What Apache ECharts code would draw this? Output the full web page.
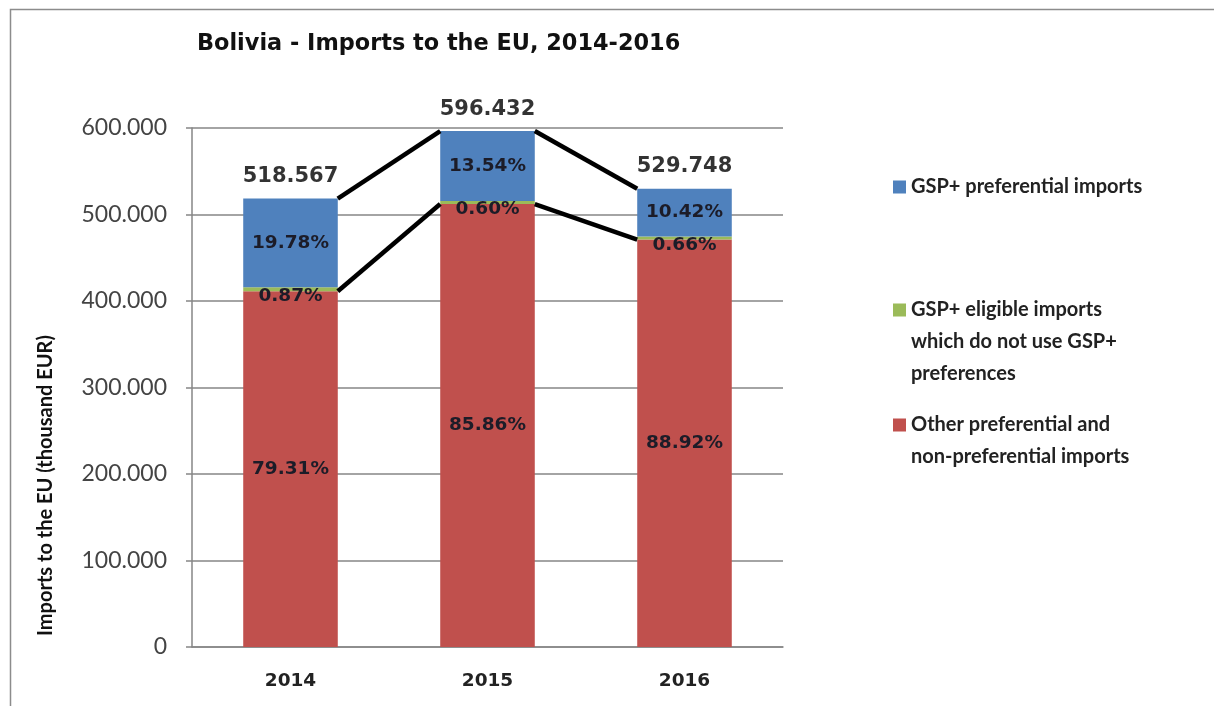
<!DOCTYPE html>
<html>
<head>
<meta charset="utf-8">
<script src="https://cdn.jsdelivr.net/npm/echarts@6/dist/echarts.min.js"></script>
<style>
html,body{margin:0;padding:0;background:#fff;}
#chart{width:1214px;height:706px;}
</style>
</head>
<body>
<div id="chart"></div>
<script>
// ---- data (thousand EUR) ----
var categories = ['2014', '2015', '2016'];
var totals = [518567, 596432, 529748];
var otherImports = [411276, 512097, 471052];   // Other preferential and non-preferential imports
var eligibleNotUsed = [4512, 3579, 3496];      // GSP+ eligible imports which do not use GSP+ preferences
var gspPreferential = [102573, 80757, 55200];  // GSP+ preferential imports
var yTicks = [0, 100000, 200000, 300000, 400000, 500000, 600000];

var nameGsp = 'GSP+ preferential imports';
var nameEligible = 'GSP+ eligible imports\nwhich do not use GSP+\npreferences';
var nameOther = 'Other preferential and\nnon-preferential imports';

var LATO = 'Lato';
var WIDE = 'DejaVu Sans';
var BAR_RATIO = 0.48;

function dots(v) {
  return String(Math.round(v)).replace(/\B(?=(\d{3})+(?!\d))/g, '.');
}
function pctLabel(p) {
  return (p.value / totals[p.dataIndex] * 100).toFixed(2) + '%';
}

var cumRed = otherImports.slice();
var cumGreen = otherImports.map(function (v, i) { return v + eligibleNotUsed[i]; });
var cumTop = cumGreen.map(function (v, i) { return v + gspPreferential[i]; });

var lineData = [];
for (var i = 0; i < categories.length - 1; i++) lineData.push([categories[i], cumTop[i]]);

var barLabel = {
  show: true, position: 'inside', formatter: pctLabel,
  color: '#1c1c28', fontFamily: WIDE, fontWeight: 'bold', fontSize: 18.5
};

// legend icon: a 13px square sitting at the first text line
function legendFor(name, color, lines, iconCenterY) {
  var L = 32, S = 13;
  var H = S + (lines - 1) * L;
  var icon = 'path://M0,0H' + S + 'V' + S + 'H0Z M0,' + (H - 0.01) + 'H0.01V' + H + 'H0Z';
  return {
    data: [{ name: name, icon: icon, itemStyle: { color: color } }],
    left: 893,
    top: iconCenterY - L / 2,
    orient: 'vertical',
    padding: 0,
    itemWidth: S, itemHeight: H, itemGap: 0,
    selectedMode: false,
    textStyle: { fontFamily: LATO, fontSize: 20, fontWeight: 'bold', color: '#222', lineHeight: L }
  };
}

var chart = echarts.init(document.getElementById('chart'));
chart.setOption({
  animation: false,
  backgroundColor: '#fff',
  title: {
    text: 'Bolivia - Imports to the EU, 2014-2016',
    left: 197, top: 33, padding: 0,
    textStyle: { fontFamily: WIDE, fontSize: 22.4, fontWeight: 'bold', color: '#111' }
  },
  graphic: [{
    type: 'rect', left: 8, top: 7, silent: true,
    shape: { width: 1230, height: 720 },
    style: { fill: 'none', stroke: '#8c8c8c', lineWidth: 1.5 }
  }],
  legend: [
    legendFor(nameGsp, '#4F81BD', 1, 187),
    legendFor(nameEligible, '#9BBB59', 3, 310),
    legendFor(nameOther, '#C0504D', 2, 425)
  ],
  grid: { left: 192, right: 431, top: 128, bottom: 59 },
  xAxis: {
    type: 'category', data: categories,
    axisLine: { lineStyle: { color: '#868686', width: 1.5 } },
    axisTick: { show: false },
    axisLabel: { margin: 25, fontFamily: WIDE, fontSize: 18.5, fontWeight: 'bold', color: '#222' }
  },
  yAxis: {
    type: 'value', min: yTicks[0], max: yTicks[yTicks.length - 1], interval: yTicks[1] - yTicks[0],
    name: 'Imports to the EU (thousand EUR)',
    nameLocation: 'middle', nameGap: 136,
    nameTextStyle: { fontFamily: LATO, fontSize: 20, fontWeight: 'bold', color: '#111', padding: [0, 196, 0, 0] },
    axisLine: { show: true, lineStyle: { color: '#868686', width: 1.5 } },
    axisTick: { show: true, length: 6, lineStyle: { color: '#868686', width: 1.5 } },
    splitLine: { lineStyle: { color: '#868686', width: 1.5 } },
    axisLabel: { margin: 25, formatter: dots, fontFamily: LATO, fontSize: 23, color: '#444' }
  },
  series: [
    {
      name: nameOther, type: 'bar', stack: 'imports', data: otherImports,
      barWidth: (BAR_RATIO * 100) + '%', itemStyle: { color: '#C0504D' }, label: barLabel
    },
    {
      name: nameEligible, type: 'bar', stack: 'imports', data: eligibleNotUsed,
      barWidth: (BAR_RATIO * 100) + '%', itemStyle: { color: '#9BBB59' },
      label: Object.assign({}, barLabel, { offset: [0, 7] })
    },
    {
      name: nameGsp, type: 'bar', stack: 'imports', data: gspPreferential,
      barWidth: (BAR_RATIO * 100) + '%', itemStyle: { color: '#4F81BD' }, label: barLabel
    },
    {
      name: 'Total', type: 'scatter', data: totals, symbolSize: 1, silent: true,
      itemStyle: { color: 'rgba(0,0,0,0)' },
      label: {
        show: true, position: 'top', distance: 11,
        formatter: function (p) { return dots(p.value); },
        fontFamily: WIDE, fontSize: 21, fontWeight: 'bold', color: '#000'
      }
    },
    {
      name: 'Series lines', type: 'custom', data: lineData, silent: true, z: 5,
      renderItem: function (params, api) {
        var k = params.dataIndex;
        var hw = api.size([1, 0])[0] * BAR_RATIO / 2;
        var children = [];
        [cumTop, cumRed].forEach(function (arr) {
          var p0 = api.coord([k, arr[k]]);
          var p1 = api.coord([k + 1, arr[k + 1]]);
          children.push({
            type: 'line',
            shape: { x1: p0[0] + hw, y1: p0[1], x2: p1[0] - hw, y2: p1[1] },
            style: { stroke: '#000', lineWidth: 4.5 }
          });
        });
        return { type: 'group', children: children };
      }
    }
  ]
});
</script>
</body>
</html>
